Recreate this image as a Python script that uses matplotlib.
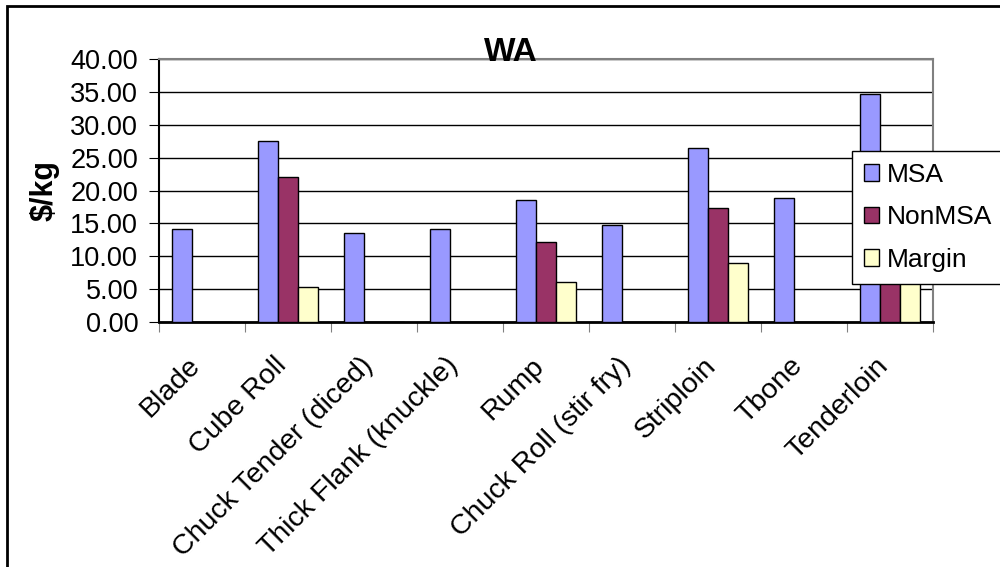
import numpy as np
import matplotlib
matplotlib.use("Agg")
import matplotlib.pyplot as plt
from matplotlib.patches import Rectangle

plt.rcParams['font.family'] = ['Liberation Sans', 'DejaVu Sans']

cuts = ['Blade', 'Cube Roll', 'Chuck Tender (diced)', 'Thick Flank (knuckle)',
        'Rump', 'Chuck Roll (stir fry)', 'Striploin', 'Tbone', 'Tenderloin']
msa = [14.2, 27.5, 13.6, 14.2, 18.5, 14.7, 26.4, 18.8, 34.7]
non_msa = [0, 22.1, 0, 0, 12.2, 0, 17.3, 0, 24.5]
margin = [0, 5.3, 0, 0, 6.1, 0, 9.0, 0, 10.2]

fig = plt.figure(figsize=(10, 5.67), dpi=100)
ax = fig.add_axes([0.159, 0.432, 0.774, 0.464])

x = np.arange(len(cuts))
w = 0.233
ax.bar(x - w, msa, w, color='#9999FF', edgecolor='black', linewidth=1, label='MSA', zorder=3)
ax.bar(x, non_msa, w, color='#993366', edgecolor='black', linewidth=1, label='NonMSA', zorder=3)
ax.bar(x + w, margin, w, color='#FFFFCC', edgecolor='black', linewidth=1, label='Margin', zorder=3)

ax.set_xlim(-0.5, len(cuts) - 0.5)
ax.set_ylim(0, 40)
ax.set_yticks(np.arange(0, 41, 5))
ax.set_yticklabels([f'{v:.2f}' for v in np.arange(0, 41, 5)], fontsize=19.5)
ax.yaxis.grid(True, color='black', linewidth=1, zorder=0)

# tick marks sit between the groups, labels a little left of each group centre
ax.set_xticks(np.arange(-0.5, len(cuts), 1))
ax.set_xticklabels([])
ax.set_xticks(x - 0.17, minor=True)
ax.set_xticklabels(cuts, minor=True, rotation=45, ha='right', rotation_mode='anchor', fontsize=20.5)
ax.tick_params(axis='x', which='major', length=7, color='gray', direction='out')
ax.tick_params(axis='x', which='minor', length=0, pad=22)
ax.tick_params(axis='y', length=7, direction='out', pad=8)

for side in ['top', 'right']:
    ax.spines[side].set_color('gray')
    ax.spines[side].set_linewidth(1.5)
ax.spines['left'].set_linewidth(1.5)
ax.spines['bottom'].set_linewidth(2)

fig.text(0.511, 1 - 61 / 567, 'WA', fontsize=24, fontweight='bold', ha='center', va='baseline')
ax.set_ylabel('$/kg', fontsize=22, fontweight='bold', labelpad=8)

leg = ax.legend(loc='upper left', bbox_to_anchor=(0.895, 0.65), fontsize=19,
                frameon=True, fancybox=False, edgecolor='black', framealpha=1,
                handlelength=0.6, handleheight=0.6, handletextpad=0.3,
                labelspacing=0.7, borderpad=0.45, borderaxespad=0)
leg.get_frame().set_linewidth(1)
leg.set_zorder(5)

fig.patches.append(Rectangle((0.007, -0.1), 1.1, 1.089, transform=fig.transFigure,
                             fill=False, edgecolor='black', linewidth=2))

fig.savefig('out.png', dpi=100)
